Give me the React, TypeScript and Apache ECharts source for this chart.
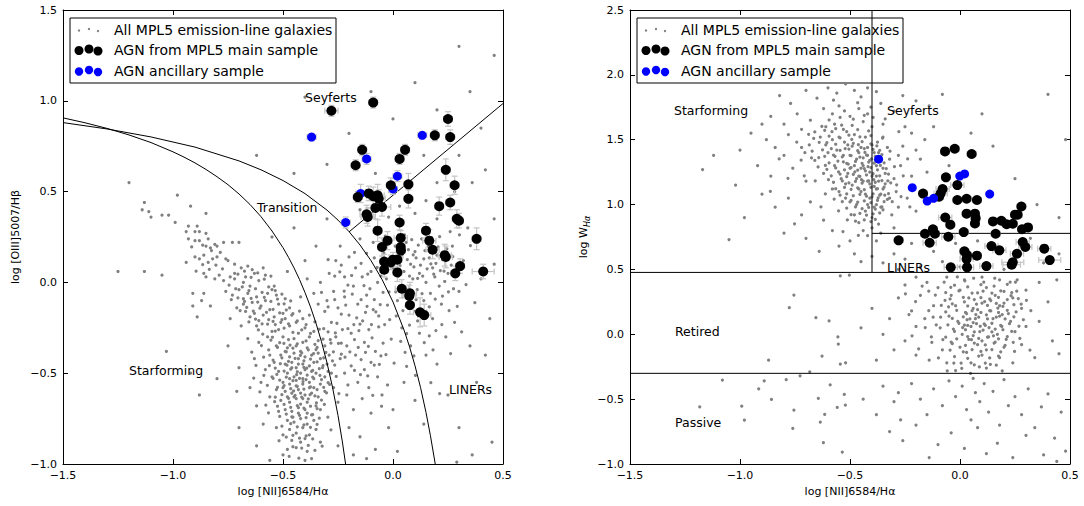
import React, { useEffect, useRef } from "react";
import * as echarts from "echarts";

const FONT = "DejaVu Sans";

// ---------- BPT panel (left) ----------
const BPT_GRAY: number[][] = [
  [-1.2,0.55],[-1.13,0.44],[-1.14,0.40],[-1.11,0.39],[-1.10,0.36],[-0.98,0.48],[-1.05,0.37],[-1.02,0.37],[-0.92,0.42],[-0.85,0.38],[-0.99,0.33],[-0.93,0.31],[-0.89,0.31],[-0.94,0.28],[-0.90,0.28],[-0.88,0.28],[-0.85,0.27],[-0.93,0.24],[-0.90,0.23],[-0.88,0.23],[-0.84,0.24],[-0.85,0.20],[-0.83,0.19],[-0.81,0.21],[-0.80,0.20],[-0.77,0.22],[-0.73,0.22],[-0.70,0.22],[-0.90,0.14],[-0.88,0.13],[-0.86,0.15],[-0.82,0.13],[-0.80,0.14],[-0.84,0.11],[-0.94,0.11],[-0.76,0.13],[-0.75,0.12],[-0.72,0.10],[-0.69,0.08],[-0.66,0.09],[-0.64,0.07],[-0.59,0.08],[-1.13,0.06],[-1.05,0.04],[-0.86,0.05],[-0.85,0.03],[-0.81,0.02],[-0.79,0.04],[-0.77,0.01],[-0.74,0.03],[-0.72,0.02],[-0.68,0.0],[-0.67,0.03],
  [-1.25,0.06],[-1.03,-0.38],[-0.92,-0.5],[-0.88,-0.62],
  [-0.91,-0.06],[-0.86,-0.06],[-0.91,-0.13],[-0.87,-0.10],[-0.83,-0.13],[-0.89,-0.19],[-0.76,-0.05],[-0.73,-0.07],[-0.70,-0.04],[-0.68,-0.09],[-0.66,-0.06],[-0.64,-0.11],[-0.62,-0.08],[-0.60,-0.13],[-0.71,-0.14],[-0.67,-0.16],[-0.63,-0.17],[-0.58,-0.10],[-0.56,-0.15],[-0.54,-0.19],[-0.61,-0.21],[-0.57,-0.23],[-0.52,-0.12],[-0.50,-0.17],[-0.65,-0.02],[-0.61,0.01],[-0.55,-0.04],[-0.58,0.04],[-0.53,-0.07],[-0.49,-0.09],[-0.47,-0.14],[-0.72,0.05],[-0.63,0.05],[-0.74,-0.20],[-0.69,-0.24],
  [-0.52,-0.26],[-0.47,-0.24],[-0.43,-0.28],[-0.40,-0.25],[-0.36,-0.27],[-0.50,-0.30],[-0.45,-0.31],[-0.41,-0.33],[-0.38,-0.30],[-0.34,-0.32],[-0.53,-0.35],[-0.48,-0.36],[-0.44,-0.35],[-0.42,-0.38],[-0.39,-0.36],[-0.35,-0.37],[-0.31,-0.35],[-0.51,-0.40],[-0.47,-0.41],[-0.45,-0.39],[-0.43,-0.42],[-0.40,-0.41],[-0.37,-0.40],[-0.33,-0.42],[-0.29,-0.40],[-0.54,-0.44],[-0.49,-0.45],[-0.46,-0.44],[-0.44,-0.47],[-0.41,-0.45],[-0.38,-0.46],[-0.36,-0.44],[-0.32,-0.47],[-0.52,-0.49],[-0.48,-0.50],[-0.45,-0.52],[-0.42,-0.50],[-0.39,-0.51],[-0.35,-0.50],[-0.31,-0.52],[-0.50,-0.55],[-0.47,-0.56],[-0.44,-0.54],[-0.41,-0.56],[-0.38,-0.55],[-0.36,-0.58],[-0.33,-0.56],[-0.53,-0.59],[-0.49,-0.60],[-0.46,-0.61],[-0.43,-0.59],[-0.40,-0.62],[-0.37,-0.61],[-0.34,-0.63],[-0.51,-0.65],[-0.47,-0.66],[-0.44,-0.64],[-0.42,-0.67],[-0.39,-0.66],[-0.35,-0.68],[-0.49,-0.70],[-0.46,-0.71],[-0.43,-0.72],[-0.40,-0.70],[-0.37,-0.73],[-0.48,-0.76],[-0.45,-0.77],[-0.42,-0.75],[-0.39,-0.78],[-0.36,-0.76],[-0.47,-0.81],[-0.44,-0.83],[-0.41,-0.80],[-0.38,-0.84],[-0.46,-0.87],[-0.42,-0.88],[-0.40,-0.86],[-0.44,-0.91],[-0.39,-0.93],
  [-0.49,-0.38],[-0.46,-0.47],[-0.43,-0.45],[-0.40,-0.48],[-0.37,-0.49],[-0.47,-0.53],[-0.44,-0.57],[-0.41,-0.53],[-0.38,-0.58],[-0.45,-0.63],[-0.41,-0.64],[-0.48,-0.63],[-0.43,-0.69],[-0.39,-0.72],[-0.46,-0.74],[-0.50,-0.58],[-0.42,-0.61],[-0.36,-0.53],[-0.34,-0.39],[-0.30,-0.45],[-0.28,-0.50],[-0.31,-0.60],[-0.33,-0.70],[-0.52,-0.71],[-0.55,-0.52],[-0.56,-0.40],[-0.57,-0.30],[-0.55,-0.27],[-0.58,-0.48],[-0.56,-0.63],[-0.53,-0.80],[-0.50,-0.84],[-0.35,-0.81],[-0.33,-0.88],[-0.48,-0.92],[-0.50,-0.95],[-0.37,-0.97],
  [-0.61,-0.33],[-0.63,-0.42],[-0.66,-0.31],[-0.60,-0.55],[-0.62,-0.68],[-0.59,-0.78],[-0.65,-0.58],[-0.70,-0.47],[-0.71,-0.60],[-0.75,-0.35],[-0.80,-0.53],[-0.70,-0.80],[-0.62,-0.90],[-0.56,-0.98],
  [-0.68,-0.12],[-0.65,-0.19],[-0.62,-0.24],[-0.59,-0.18],[-0.57,-0.06],[-0.54,-0.02],[-0.51,-0.22],[-0.49,-0.20],[-0.46,-0.18],[-0.44,-0.22],[-0.41,-0.20],[-0.38,-0.18],
  [-0.30,-0.10],[-0.27,-0.05],[-0.25,-0.14],[-0.22,-0.08],[-0.20,-0.18],[-0.18,-0.02],[-0.16,-0.12],[-0.14,0.03],[-0.12,-0.07],[-0.10,0.06],[-0.09,-0.15],[-0.07,0.0],[-0.05,0.10],[-0.28,-0.22],[-0.26,-0.30],[-0.23,-0.26],[-0.21,-0.35],[-0.19,-0.28],[-0.17,-0.40],[-0.15,-0.23],[-0.13,-0.33],[-0.11,-0.26],[-0.08,-0.38],[-0.24,-0.42],[-0.22,-0.50],[-0.19,-0.46],[-0.16,-0.55],[-0.13,-0.48],[-0.10,-0.44],[-0.27,-0.58],[-0.25,-0.66],[-0.21,-0.62],[-0.18,-0.70],[-0.14,-0.64],[-0.11,-0.58],[-0.07,-0.52],[-0.29,0.05],[-0.33,0.0],[-0.36,-0.06],[-0.39,0.02],[-0.42,-0.08],[-0.31,-0.16],[-0.34,-0.12],[-0.26,0.12],[-0.22,0.03],[-0.20,0.14],[-0.17,0.08],[-0.24,0.20],[-0.12,0.16],[-0.09,0.22],[-0.06,0.18],[-0.15,0.24],
  [0.01,0.20],[0.04,0.15],[0.06,0.22],[0.08,0.10],[0.10,0.17],[0.12,0.05],[0.14,0.13],[0.16,0.20],[0.18,0.08],[0.20,0.15],[0.09,0.02],[0.11,-0.04],[0.13,0.24],[0.15,0.00],[0.17,-0.06],[0.19,0.03],[0.21,-0.02],[0.07,0.18],[0.05,0.06],[0.03,-0.02],[0.00,0.08],[-0.02,0.13],[-0.03,0.02],[0.02,-0.10],[0.06,-0.13],[0.10,-0.16],[0.14,-0.10],[0.18,-0.20],[0.22,-0.12],[0.25,0.05],[0.24,-0.30],[0.12,-0.28],[0.08,-0.35],[0.04,-0.25],[0.15,-0.40],[0.20,-0.45],[0.28,-0.22],[0.30,-0.05],[0.32,0.12],[0.35,-0.35],[0.26,0.28],[0.34,0.30],[0.40,0.02],[0.42,-0.40],
  [-0.05,-0.62],[0.0,-0.70],[-0.02,-0.80],[0.05,-0.55],[0.10,-0.65],[0.14,-0.78],[-0.10,-0.72],[-0.15,-0.85],[-0.20,-0.80],[-0.25,-0.90],[-0.18,-0.95],[-0.08,-0.92],[0.02,-0.93],[-0.12,-0.97],[-0.40,-0.98],[0.25,-0.62],[0.30,-0.80],[0.38,-0.55],[0.36,-0.95],[0.29,-0.99],[0.45,-0.88],[0.44,-0.20],
  [-0.02,0.36],[0.03,0.42],[0.10,0.38],[0.15,0.45],[0.20,0.35],[0.28,0.50],[0.36,0.55],[0.42,0.62],[0.46,0.35],[0.30,0.70],[0.20,0.95],[0.35,1.05],[0.46,1.25],[0.30,1.30],[0.10,1.10],[0.0,0.90],[-0.10,1.05],[-0.20,0.82],[-0.30,0.65],[-0.45,0.60],[-0.40,1.02],[-0.08,0.60],[0.40,0.85],[0.14,0.70],[0.20,0.55],[-0.15,0.40],[-0.30,0.35],[-0.55,0.25],[-0.45,0.30],[-0.35,0.20],[-0.40,0.12],[-0.48,0.06],[-0.50,0.40],[-0.62,0.70],[0.46,0.10],[0.27,0.20],
  [-0.545,-0.215],[-0.505,-0.205],[-0.475,-0.228],[-0.435,-0.212],[-0.395,-0.232],[-0.355,-0.218],
  [-0.535,-0.268],[-0.495,-0.252],[-0.455,-0.275],[-0.415,-0.262],[-0.375,-0.281],[-0.335,-0.258],[-0.295,-0.272],
  [-0.555,-0.318],[-0.515,-0.332],[-0.475,-0.315],[-0.435,-0.338],[-0.395,-0.322],[-0.355,-0.341],[-0.318,-0.312],[-0.282,-0.335],
  [-0.565,-0.372],[-0.525,-0.358],[-0.485,-0.382],[-0.455,-0.362],[-0.415,-0.388],[-0.385,-0.371],[-0.345,-0.358],[-0.305,-0.385],
  [-0.545,-0.428],[-0.505,-0.415],[-0.475,-0.435],[-0.445,-0.418],[-0.405,-0.432],[-0.375,-0.422],[-0.345,-0.438],[-0.315,-0.415],[-0.275,-0.432],
  [-0.535,-0.472],[-0.495,-0.488],[-0.465,-0.478],[-0.435,-0.492],[-0.405,-0.468],[-0.365,-0.485],[-0.335,-0.475],[-0.295,-0.49],
  [-0.545,-0.528],[-0.515,-0.538],[-0.485,-0.522],[-0.455,-0.541],[-0.425,-0.528],[-0.395,-0.535],[-0.365,-0.522],[-0.325,-0.535],[-0.295,-0.552],
  [-0.525,-0.578],[-0.495,-0.568],[-0.465,-0.585],[-0.435,-0.572],[-0.405,-0.588],[-0.375,-0.575],[-0.345,-0.59],[-0.315,-0.578],
  [-0.535,-0.632],[-0.505,-0.618],[-0.475,-0.638],[-0.445,-0.622],[-0.415,-0.632],[-0.385,-0.642],[-0.355,-0.625],[-0.325,-0.648],
  [-0.525,-0.682],[-0.495,-0.672],[-0.465,-0.688],[-0.435,-0.678],[-0.405,-0.692],[-0.375,-0.682],[-0.345,-0.695],
  [-0.515,-0.738],[-0.485,-0.725],[-0.455,-0.742],[-0.425,-0.732],[-0.395,-0.745],[-0.365,-0.728],[-0.335,-0.748],
  [-0.505,-0.792],[-0.465,-0.778],[-0.435,-0.795],[-0.405,-0.785],[-0.375,-0.798],[-0.345,-0.782],
  [-0.485,-0.852],[-0.455,-0.842],[-0.425,-0.858],[-0.395,-0.845],[-0.365,-0.862],
  [-0.455,-0.905],[-0.415,-0.912],[-0.385,-0.898],[-0.355,-0.925],
  [-0.612,-0.262],[-0.598,-0.348],[-0.623,-0.457],[-0.587,-0.512],[-0.605,-0.603],[-0.578,-0.676],[-0.642,-0.384],[-0.633,-0.527],[-0.588,-0.412],[-0.571,-0.567],[-0.566,-0.718],[-0.592,-0.285],[-0.548,-0.302],[-0.562,-0.458],[-0.538,-0.657],[-0.528,-0.507],[-0.512,-0.448],[-0.496,-0.336],[-0.482,-0.456],[-0.468,-0.346],[-0.452,-0.598],[-0.438,-0.508],[-0.421,-0.402],[-0.409,-0.546],[-0.392,-0.472],[-0.377,-0.618],[-0.361,-0.392],[-0.348,-0.664],[-0.332,-0.512],[-0.318,-0.458],[-0.302,-0.608],[-0.288,-0.562],[-0.271,-0.382],[-0.258,-0.518],[-0.246,-0.612],[-0.262,-0.278],[-0.248,-0.336],[-0.312,-0.672],[-0.296,-0.742],[-0.282,-0.812],[-0.518,-0.872],[-0.472,-0.958],[-0.428,-0.968],[-0.322,-0.902],
  [-0.745,-0.015],[-0.715,-0.035],[-0.685,-0.025],[-0.655,-0.045],[-0.625,-0.035],[-0.595,-0.055],[-0.565,-0.025],[-0.535,-0.045],[-0.505,-0.065],
  [-0.735,-0.095],[-0.705,-0.085],[-0.675,-0.105],[-0.645,-0.088],[-0.615,-0.108],[-0.585,-0.082],[-0.555,-0.105],[-0.525,-0.092],[-0.495,-0.118],[-0.465,-0.102],
  [-0.695,-0.155],[-0.665,-0.138],[-0.635,-0.158],[-0.605,-0.142],[-0.575,-0.165],[-0.545,-0.148],[-0.515,-0.168],[-0.485,-0.152],[-0.455,-0.172],[-0.425,-0.158],
  [-0.655,-0.218],[-0.625,-0.202],[-0.595,-0.228],[-0.565,-0.205],[-0.535,-0.232],
  [-0.705,0.045],[-0.675,0.062],[-0.645,0.028],[-0.615,0.052],[-0.585,0.018],[-0.555,0.035],[-0.775,0.075],[-0.805,0.095],[-0.835,0.072],[-0.865,0.098],[-0.895,0.062],[-0.785,0.165],[-0.825,0.175],[-0.865,0.205],[-0.915,0.195],
  [-0.325,-0.055],[-0.295,-0.135],[-0.265,-0.095],[-0.235,-0.175],[-0.215,-0.125],[-0.185,-0.065],[-0.165,-0.195],[-0.145,-0.095],[-0.125,-0.165],[-0.105,-0.035],[-0.085,-0.095],[-0.065,-0.185],[-0.045,-0.055],[-0.025,-0.125],
  [-0.315,-0.255],[-0.285,-0.315],[-0.255,-0.225],[-0.235,-0.335],[-0.205,-0.255],[-0.175,-0.315],[-0.155,-0.265],[-0.125,-0.385],[-0.095,-0.305],[-0.065,-0.245],[-0.045,-0.335],[-0.015,-0.205],
  [-0.265,-0.455],[-0.235,-0.395],[-0.205,-0.565],[-0.175,-0.485],[-0.145,-0.425],[-0.115,-0.515],[-0.085,-0.455],[-0.055,-0.405],[-0.025,-0.565],
  [-0.295,0.125],[-0.265,0.035],[-0.235,0.095],[-0.205,-0.015],[-0.175,0.165],[-0.145,0.105],[-0.115,0.045],[-0.085,0.135],[-0.055,0.035],[-0.035,0.255],[-0.025,0.095],
  [0.015,0.145],[0.025,0.035],[0.045,0.195],[0.055,-0.065],[0.065,0.125],[0.075,0.035],[0.085,0.235],[0.095,0.085],[0.105,0.135],[0.115,0.205],[0.125,0.095],[0.135,0.035],[0.145,0.175],[0.155,0.075],[0.165,0.135],[0.175,0.245],[0.185,0.045],[0.195,0.105],[0.205,0.195],[0.215,0.065],[0.225,0.125],[0.235,0.005],[0.245,0.185],[0.265,0.095],[0.275,-0.035],
  [0.015,-0.185],[0.045,-0.155],[0.075,-0.235],[0.105,-0.095],[0.135,-0.195],[0.165,-0.135],[0.195,-0.265],[0.225,-0.075],[0.255,-0.155],[0.285,0.035],[0.035,-0.325],[0.095,-0.405],[0.165,-0.295],[0.005,-0.445],[0.055,-0.385],
  [-0.218,-0.412],[-0.196,-0.382],[-0.178,-0.232],[-0.158,-0.358],[-0.138,-0.212],[-0.118,-0.132],[-0.098,-0.232],[-0.078,-0.162],[-0.058,-0.122],[-0.038,-0.232],[-0.018,-0.052],[-0.008,-0.312],[-0.112,-0.352],[-0.062,-0.452],[-0.032,-0.398],[-0.148,-0.508],[-0.092,-0.622],[-0.052,-0.682],[-0.242,0.058],[-0.188,0.038],[-0.132,-0.018],[-0.072,0.082],[-0.042,0.162],[-0.222,-0.048],
  [0.012,-0.052],[0.032,0.092],[0.052,0.262],[0.072,-0.142],[0.092,0.152],[0.112,0.022],[0.132,-0.062],[0.152,0.222],[0.172,0.102],[0.192,-0.092],[0.212,0.252],[0.232,0.062],[0.252,-0.052],[0.272,0.142],[0.292,-0.132],[0.062,-0.282],[0.112,-0.212],[0.142,-0.332],[0.182,-0.372],[0.222,-0.232],[0.262,-0.392],[0.312,-0.272],[0.332,-0.012],[0.352,0.202],[0.372,-0.112],[0.102,-0.512],[0.172,-0.552],[0.062,-0.462],[0.212,-0.612],[0.302,0.262],
];

// [x, y, xerr, yerr]
const BPT_AGN: number[][] = [
  [-0.28,0.945,0.03,0.03],[-0.09,0.99,0.02,0.03],[0.25,0.90,0.02,0.04],[0.19,0.81,0.02,0.03],[0.26,0.80,0.02,0.04],
  [-0.14,0.73,0.02,0.03],[0.055,0.73,0.02,0.03],[0.03,0.68,0.02,0.03],[-0.17,0.645,0.02,0.03],[0.24,0.62,0.02,0.06],
  [0.28,0.535,0.02,0.05],[-0.01,0.535,0.02,0.04],[0.07,0.54,0.02,0.06],[0.07,0.46,0.02,0.05],[-0.11,0.49,0.03,0.04],
  [-0.09,0.475,0.03,0.05],[-0.07,0.48,0.03,0.06],[-0.065,0.46,0.03,0.05],[-0.16,0.47,0.02,0.03],[-0.08,0.41,0.04,0.06],
  [-0.05,0.415,0.04,0.05],[0.21,0.42,0.02,0.05],[0.26,0.44,0.02,0.04],[-0.12,0.375,0.03,0.05],[-0.115,0.36,0.03,0.05],
  [0.29,0.35,0.02,0.05],[0.30,0.34,0.02,0.04],[0.03,0.33,0.02,0.04],[-0.07,0.285,0.02,0.06],[0.15,0.285,0.02,0.04],
  [0.38,0.24,0.02,0.06],[-0.025,0.23,0.02,0.05],[0.035,0.245,0.03,0.04],[0.165,0.23,0.03,0.06],[-0.05,0.195,0.02,0.05],
  [0.035,0.195,0.02,0.05],[0.036,0.175,0.02,0.04],[0.18,0.18,0.03,0.05],[0.235,0.15,0.03,0.06],[0.24,0.14,0.03,0.06],
  [0.305,0.09,0.02,0.04],[0.283,0.05,0.02,0.04],[0.41,0.06,0.05,0.04],[-0.04,0.115,0.02,0.04],[-0.01,0.11,0.02,0.04],
  [0.0,0.125,0.02,0.04],[0.02,0.125,0.02,0.04],[-0.04,0.07,0.02,0.04],[0.02,0.055,0.02,0.05],[0.04,-0.035,0.03,0.05],
  [0.077,-0.06,0.03,0.06],[0.074,-0.075,0.03,0.06],[0.077,-0.125,0.02,0.05],[0.123,-0.165,0.03,0.08],[0.142,-0.18,0.03,0.06],
];

const BPT_ANC: number[][] = [
  [-0.37,0.80,0.02,0.02],[0.133,0.81,0.02,0.02],[-0.12,0.68,0.02,0.03],[0.02,0.585,0.02,0.03],
  [0.0,0.515,0.02,0.03],[-0.147,0.49,0.02,0.05],[-0.215,0.33,0.02,0.03],
];

// Kauffmann et al. (2003) and Kewley et al. (2001) demarcations, tabulated
const KAUFFMANN: number[][] = [
  [-1.5,0.906],[-1.4,0.879],[-1.3,0.848],[-1.2,0.812],[-1.1,0.770],[-1.0,0.719],[-0.95,0.690],[-0.9,0.658],[-0.85,0.622],[-0.8,0.582],[-0.75,0.538],[-0.7,0.487],[-0.65,0.429],[-0.6,0.362],[-0.55,0.283],[-0.5,0.191],[-0.475,0.138],[-0.45,0.080],[-0.425,0.016],[-0.4,-0.056],[-0.375,-0.135],[-0.35,-0.225],[-0.325,-0.327],[-0.3,-0.443],[-0.275,-0.577],[-0.25,-0.733],[-0.23,-0.879],[-0.2155,-1.0],
];
const KEWLEY: number[][] = [
  [-1.5,0.880],[-1.3,0.845],[-1.1,0.801],[-0.9,0.745],[-0.7,0.669],[-0.6,0.620],[-0.5,0.561],[-0.4,0.489],[-0.3,0.398],[-0.25,0.343],[-0.2,0.280],[-0.15,0.206],[-0.1,0.120],[-0.05,0.017],[0.0,-0.108],[0.05,-0.262],[0.075,-0.354],[0.1,-0.459],[0.125,-0.578],[0.15,-0.716],[0.17,-0.843],[0.192,-1.0],
];
const SEY_LINER: number[][] = [[-0.2,0.278],[0.5,0.985]];

// ---------- WHAN panel (right) ----------
const WHAN_GRAY: number[][] = [
  [-0.82,1.84],[-0.77,1.78],[-0.70,1.88],[-0.65,1.82],[-0.60,1.90],[-0.56,1.86],[-0.52,1.93],[-0.48,1.88],[-0.45,1.83],[-0.42,1.90],[-0.38,1.87],[-0.62,1.74],[-0.58,1.70],[-0.74,1.70],[-0.86,1.68],[-0.90,1.62],[-0.80,1.62],[-0.68,1.65],[-0.55,1.76],[-0.50,1.68],[-0.46,1.74],[-0.42,1.70],[-0.36,1.78],[-0.34,1.66],[-0.30,1.72],[-0.26,1.84],[-0.20,1.80],[-0.14,1.76],[-0.95,1.55],[-0.88,1.50],[-0.84,1.44],[-0.78,1.54],[-0.72,1.58],[-0.66,1.56],[-0.61,1.60],[-0.57,1.62],[-0.53,1.58],[-0.49,1.61],[-0.44,1.64],[-0.40,1.60],[-1.0,1.42],[-1.12,1.38],[-1.17,1.27],
  [-0.92,1.30],[-0.86,1.22],[-0.80,1.38],[-0.76,1.28],[-0.72,1.44],[-0.70,1.18],[-0.66,1.34],[-0.64,1.48],[-0.62,1.24],[-0.60,1.40],[-0.58,1.12],[-0.57,1.30],[-0.55,1.52],[-0.54,1.20],[-0.53,1.38],[-0.52,1.05],[-0.51,1.46],[-0.50,1.28],[-0.49,1.15],[-0.48,1.54],[-0.47,1.35],[-0.47,1.00],[-0.46,1.22],[-0.45,1.44],[-0.45,1.10],[-0.44,1.30],[-0.43,1.52],[-0.43,0.95],[-0.42,1.18],[-0.42,1.38],[-0.41,1.05],[-0.41,1.25],[-0.40,1.46],[-0.40,0.90],[-0.39,1.14],[-0.39,1.32],[-0.38,1.00],[-0.38,1.22],[-0.37,1.40],[-0.37,0.85],[-0.36,1.08],[-0.35,1.28],[-0.35,0.96],[-0.34,1.16],[-0.33,1.04],[-0.32,1.35],[-0.31,0.92],[-0.30,1.20],[-0.29,1.10],[-0.28,0.98],[-0.27,1.30],[-0.26,1.45],[-0.24,1.05],[-0.22,1.22],[-0.20,0.95],[-0.18,1.35],[-0.16,1.50],[-0.25,1.60],
  [-0.56,1.42],[-0.53,1.33],[-0.51,1.24],[-0.50,1.38],[-0.49,1.45],[-0.48,1.30],[-0.47,1.20],[-0.46,1.40],[-0.46,1.12],[-0.45,1.28],[-0.44,1.36],[-0.44,1.18],[-0.43,1.08],[-0.43,1.26],[-0.42,1.44],[-0.42,1.00],[-0.41,1.34],[-0.41,1.16],[-0.40,1.22],[-0.40,1.06],[-0.39,0.98],[-0.39,1.40],[-0.38,1.12],[-0.38,1.30],[-0.37,1.18],[-0.36,0.98],[-0.36,1.36],[-0.35,1.12],[-0.34,1.24],[-0.33,1.44],[-0.58,1.50],[-0.61,1.46],[-0.55,1.10],[-0.52,1.16],[-0.50,1.02],[-0.48,0.92],[-0.46,0.86],[-0.44,0.80],[-0.42,0.76],[-0.40,0.82],[-0.38,0.72],[-0.36,0.78],
  [-0.68,1.02],[-0.72,0.92],[-0.78,1.05],[-0.84,0.98],[-0.90,1.08],[-0.98,0.90],[-1.02,1.15],[-0.62,0.88],[-0.58,0.80],[-0.55,0.68],[-0.50,0.72],[-0.48,0.62],[-0.45,0.56],[-0.40,0.60],[-0.64,0.64],[-0.70,0.74],[-0.80,0.78],[-1.05,0.73],
  [-0.35,0.55],[-0.30,0.62],[-0.25,0.58],[-0.22,0.70],[-0.18,0.52],[-0.12,0.64],[-0.08,0.56],[-0.02,0.70],[0.05,0.60],[0.12,0.52],[0.18,0.66],[0.25,0.58],[0.32,0.74],[0.38,0.55],[0.45,0.62],[-0.28,0.50],[0.0,0.52],[0.08,0.72],[0.20,0.50],[-0.15,0.76],
  [-0.35,1.52],[-0.28,1.38],[-0.22,1.55],[-0.15,1.25],[-0.12,1.60],[-0.05,1.30],[0.05,1.55],[0.15,1.45],[0.25,1.20],[0.35,1.00],[0.45,0.90],[-0.30,0.82],[-0.20,1.42],[-0.35,1.62],[-0.32,1.05],[0.10,1.70],[-0.08,1.85],[0.40,1.85],[0.48,1.50],
  [-0.04,0.30],[0.0,0.34],[0.04,0.28],[0.08,0.32],[0.12,0.36],[0.16,0.30],[0.20,0.33],[0.24,0.28],[-0.02,0.22],[0.02,0.25],[0.06,0.20],[0.10,0.24],[0.14,0.18],[0.18,0.22],[0.22,0.16],[-0.05,0.14],[-0.01,0.10],[0.03,0.16],[0.07,0.12],[0.11,0.08],[0.15,0.12],[0.19,0.06],[0.23,0.10],[-0.03,0.04],[0.01,0.0],[0.05,0.06],[0.09,0.02],[0.13,-0.02],[0.17,0.0],[0.21,-0.04],[0.25,0.02],[-0.04,-0.06],[0.0,-0.10],[0.04,-0.04],[0.08,-0.08],[0.12,-0.12],[0.16,-0.06],[0.20,-0.10],[0.03,-0.14],[0.10,-0.16],[0.06,0.09],[0.12,0.15],[0.16,0.04],[0.08,0.19],[0.02,0.07],[0.14,0.26],[0.10,-0.05],[0.18,0.14],[0.06,-0.01],[0.20,0.24],
  [-0.15,0.40],[-0.10,0.36],[-0.18,0.30],[-0.12,0.22],[-0.16,0.12],[-0.09,0.05],[-0.13,-0.02],[-0.08,-0.12],[-0.14,-0.20],[-0.06,-0.22],[-0.02,-0.28],[0.05,-0.22],[0.12,-0.26],[0.18,-0.18],[0.24,-0.22],[0.28,-0.08],[0.30,0.06],[0.28,0.20],[0.30,0.34],[0.26,0.42],[0.18,0.42],[0.10,0.44],[0.02,0.42],[-0.06,0.44],[-0.20,0.44],[-0.25,0.38],[-0.28,0.28],[-0.22,0.18],[-0.20,0.06],[-0.25,-0.05],[-0.20,-0.16],[-0.30,-0.12],[-0.32,0.12],[-0.35,0.00],[-0.40,0.20],[-0.38,-0.20],[-0.45,0.05],[-0.52,-0.22],[0.34,-0.18],[0.36,0.10],[0.40,0.25],[0.42,-0.05],[0.45,-0.15],[0.36,0.40],[0.44,0.42],
  [-0.755,0.302],[-0.776,0.205],[-0.655,0.128],[-0.595,0.104],[-0.555,-0.02],[-0.553,-0.075],[-0.87,-0.2],[-0.627,-0.168],[-0.544,-0.23],[-0.683,-0.289],[-0.503,0.456],[-0.544,0.451],
  [-1.08,-0.353],[-0.89,-0.36],[-0.79,-0.35],[-0.727,-0.32],[-0.915,-0.42],[-0.59,-0.39],[-0.857,-0.502],[-0.644,-0.494],[-0.526,-0.464],[-1.183,-0.559],[-0.992,-0.554],[-0.755,-0.584],[-0.615,-0.618],[-0.558,-0.564],[-0.521,-0.546],[-0.98,-0.661],[-0.635,-0.677],[-0.76,-0.726],[-0.621,-0.836],[-0.535,-0.908],
  [-0.35,-0.40],[-0.30,-0.52],[-0.28,-0.45],[-0.22,-0.38],[-0.18,-0.50],[-0.15,-0.62],[-0.12,-0.42],[-0.08,-0.55],[-0.05,-0.36],[-0.02,-0.48],[0.01,-0.40],[0.03,-0.58],[0.05,-0.66],[0.07,-0.45],[0.09,-0.52],[0.11,-0.38],[0.13,-0.60],[0.15,-0.44],[0.18,-0.70],[0.20,-0.35],[0.22,-0.55],[0.25,-0.48],[0.28,-0.62],[0.31,-0.42],[0.34,-0.72],[0.37,-0.56],[0.40,-0.46],[0.43,-0.80],[0.46,-0.60],[0.48,-0.90],[-0.32,-0.75],[-0.26,-0.82],[-0.20,-0.70],[-0.10,-0.85],[-0.04,-0.76],[0.02,-0.88],[0.08,-0.72],[0.12,-0.92],[0.17,-0.84],[0.24,-0.95],[0.30,-0.78],[0.38,-0.93],[-0.14,-0.95],[0.44,-0.98],[-0.38,-0.62],[-0.44,-0.50],[-0.27,-0.66],[0.06,-0.34],
  [-0.615,1.572],[-0.565,1.585],[-0.515,1.562],[-0.465,1.578],[-0.415,1.568],[-0.665,1.51],
  [-0.595,1.528],[-0.545,1.515],[-0.505,1.535],[-0.455,1.522],[-0.405,1.532],[-0.635,1.52],
  [-0.605,1.478],[-0.565,1.465],[-0.525,1.482],[-0.485,1.472],[-0.445,1.485],[-0.405,1.468],[-0.375,1.482],[-0.685,1.46],
  [-0.625,1.422],[-0.585,1.432],[-0.545,1.418],[-0.505,1.428],[-0.465,1.415],[-0.435,1.432],[-0.395,1.425],[-0.365,1.418],[-0.705,1.40],
  [-0.615,1.372],[-0.575,1.382],[-0.535,1.368],[-0.495,1.378],[-0.455,1.365],[-0.425,1.382],[-0.385,1.372],[-0.355,1.385],[-0.675,1.36],
  [-0.595,1.322],[-0.555,1.335],[-0.515,1.318],[-0.475,1.332],[-0.445,1.318],[-0.415,1.328],[-0.385,1.345],[-0.345,1.322],
  [-0.605,1.272],[-0.565,1.282],[-0.525,1.268],[-0.495,1.285],[-0.465,1.265],[-0.435,1.278],[-0.405,1.285],[-0.375,1.268],[-0.335,1.278],[-0.645,1.29],
  [-0.585,1.222],[-0.545,1.235],[-0.515,1.215],[-0.485,1.232],[-0.455,1.218],[-0.425,1.228],[-0.395,1.238],[-0.365,1.222],[-0.325,1.235],
  [-0.575,1.172],[-0.535,1.182],[-0.505,1.168],[-0.475,1.178],[-0.445,1.165],[-0.415,1.182],[-0.385,1.172],[-0.355,1.185],[-0.315,1.168],
  [-0.565,1.122],[-0.525,1.132],[-0.495,1.118],[-0.465,1.128],[-0.435,1.115],[-0.405,1.132],[-0.375,1.122],[-0.345,1.135],
  [-0.545,1.072],[-0.515,1.082],[-0.485,1.068],[-0.455,1.078],[-0.425,1.065],[-0.395,1.082],[-0.365,1.072],[-0.325,1.085],
  [-0.535,1.022],[-0.495,1.032],[-0.465,1.018],[-0.435,1.028],[-0.405,1.015],[-0.375,1.032],[-0.345,1.022],
  [-0.515,0.972],[-0.475,0.982],[-0.445,0.968],[-0.415,0.978],[-0.385,0.965],[-0.355,0.982],
  [-0.495,0.922],[-0.455,0.932],[-0.425,0.918],[-0.395,0.928],[-0.365,0.935],
  [-0.475,0.872],[-0.435,0.882],[-0.405,0.868],[-0.385,0.885],
  [-0.595,1.652],[-0.545,1.672],[-0.485,1.658],[-0.435,1.688],[-0.395,1.672],[-0.525,1.722],[-0.465,1.785],[-0.405,1.752],[-0.575,1.805],
  [-0.742,1.482],[-0.722,1.342],[-0.708,1.222],[-0.688,1.542],[-0.672,1.412],[-0.658,1.182],[-0.642,1.362],[-0.628,1.602],[-0.612,1.302],[-0.598,1.192],[-0.582,1.562],[-0.568,1.372],[-0.552,1.252],[-0.538,1.612],[-0.522,1.432],[-0.508,1.312],[-0.492,1.502],[-0.478,1.252],[-0.462,1.462],[-0.448,1.192],[-0.432,1.402],[-0.418,1.292],[-0.402,1.352],[-0.392,1.192],[-0.378,1.452],[-0.372,1.052],[-0.362,1.302],[-0.352,1.512],[-0.342,1.072],[-0.328,1.182],[-0.318,1.412],[-0.308,1.022],[-0.298,1.292],[-0.288,1.152],[-0.278,1.562],[-0.268,1.062],[-0.258,1.222],[-0.238,1.352],[-0.228,0.982],[-0.212,1.142],[-0.552,0.952],[-0.572,1.042],[-0.612,1.082],[-0.632,0.982],[-0.512,0.882],[-0.462,0.762],[-0.532,0.792],[-0.782,1.202],[-0.822,1.352],[-0.862,1.102],[-0.752,0.852],
  [-0.025,0.378],[0.035,0.365],[0.095,0.382],[0.155,0.372],[0.215,0.385],
  [-0.065,0.322],[-0.005,0.335],[0.055,0.318],[0.105,0.332],[0.145,0.318],[0.185,0.335],[0.235,0.322],
  [-0.045,0.272],[0.015,0.285],[0.065,0.268],[0.095,0.282],[0.135,0.272],[0.175,0.285],[0.215,0.268],[0.265,0.275],
  [-0.085,0.222],[-0.035,0.235],[0.035,0.218],[0.075,0.232],[0.125,0.222],[0.165,0.238],[0.195,0.215],[0.245,0.228],
  [-0.065,0.172],[-0.015,0.185],[0.025,0.168],[0.055,0.182],[0.095,0.168],[0.135,0.182],[0.175,0.168],[0.215,0.185],[0.255,0.172],
  [-0.035,0.122],[0.015,0.135],[0.045,0.118],[0.085,0.132],[0.125,0.118],[0.165,0.132],[0.205,0.118],[0.245,0.135],
  [-0.055,0.072],[-0.005,0.085],[0.035,0.068],[0.075,0.082],[0.115,0.068],[0.145,0.085],[0.185,0.068],[0.225,0.082],
  [-0.025,0.022],[0.025,0.035],[0.065,0.018],[0.105,0.032],[0.145,0.018],[0.195,0.035],[0.235,0.022],
  [-0.065,-0.022],[-0.015,-0.035],[0.035,-0.018],[0.085,-0.032],[0.125,-0.022],[0.175,-0.035],[0.215,-0.018],
  [-0.035,-0.072],[0.025,-0.085],[0.065,-0.068],[0.115,-0.082],[0.155,-0.068],[0.205,-0.085],
  [-0.045,-0.122],[0.015,-0.135],[0.055,-0.118],[0.095,-0.132],[0.145,-0.118],[0.185,-0.135],
  [-0.025,-0.172],[0.035,-0.185],[0.085,-0.168],[0.135,-0.182],[0.175,-0.168],
  [0.005,-0.222],[0.065,-0.235],[0.115,-0.222],[0.165,-0.238],
  [-0.248,0.312],[-0.232,0.152],[-0.218,-0.012],[-0.202,0.252],[-0.188,-0.112],[-0.172,0.372],[-0.158,0.052],[-0.142,0.182],[-0.128,-0.062],[-0.112,0.302],[-0.098,-0.182],[-0.088,0.132],[-0.072,0.402],[-0.058,-0.282],[-0.042,0.362],[-0.028,-0.222],[-0.012,0.442],[0.008,-0.262],[0.022,0.412],[0.048,-0.302],[0.062,0.432],[0.088,-0.252],[0.108,0.402],[0.138,-0.232],[0.158,0.432],[0.192,-0.282],[0.228,0.402],[0.248,-0.132],[0.258,0.332],[0.272,-0.032],[0.288,0.112],[0.302,0.262],[0.318,-0.122],[0.322,0.182],[0.268,0.062],[0.242,-0.062],[0.278,0.232],[0.232,0.298],[0.252,0.402],[-0.142,0.332],[-0.068,0.262],[-0.108,0.072],[-0.078,-0.042],[-0.122,0.132],[-0.052,0.212],[0.012,0.052],[0.072,0.152],[0.132,0.052],[0.192,0.152],[0.052,-0.042],[0.112,0.252],[0.172,0.202],[0.092,0.062],[0.152,-0.012],[0.032,0.112],
];

const WHAN_AGN: number[][] = [
  [-0.068,1.41,0.02,0.02],[-0.024,1.43,0.02,0.02],[0.053,1.39,0.02,0.02],[-0.064,1.21,0.02,0.02],[-0.012,1.15,0.03,0.02],
  [-0.168,1.085,0.02,0.02],[-0.079,1.12,0.03,0.02],[-0.088,1.085,0.03,0.02],[-0.095,1.06,0.02,0.02],[-0.012,1.035,0.02,0.02],
  [0.03,1.045,0.02,0.02],[0.077,1.035,0.02,0.02],[0.279,0.985,0.02,0.02],[0.03,0.93,0.02,0.02],[0.068,0.93,0.02,0.02],
  [0.071,0.895,0.02,0.02],[0.068,0.855,0.02,0.02],[-0.067,0.90,0.03,0.02],[-0.044,0.845,0.02,0.02],[0.15,0.87,0.02,0.02],
  [0.188,0.875,0.02,0.02],[0.212,0.848,0.02,0.02],[0.24,0.852,0.02,0.02],[0.25,0.922,0.02,0.02],[0.262,0.922,0.02,0.02],
  [0.282,0.81,0.02,0.02],[0.309,0.824,0.02,0.02],[0.162,0.775,0.02,0.02],[0.017,0.788,0.02,0.02],[-0.123,0.81,0.02,0.02],
  [-0.159,0.775,0.02,0.02],[-0.114,0.775,0.02,0.02],[-0.053,0.752,0.03,0.02],[-0.279,0.724,0.02,0.02],[-0.138,0.706,0.03,0.02],
  [0.143,0.68,0.03,0.02],[0.179,0.647,0.03,0.02],[0.285,0.711,0.03,0.02],[0.297,0.673,0.03,0.02],[0.383,0.66,0.03,0.02],
  [0.02,0.64,0.02,0.02],[0.032,0.611,0.03,0.02],[0.03,0.58,0.03,0.02],[0.077,0.606,0.02,0.02],[0.259,0.621,0.03,0.02],
  [0.408,0.572,0.05,0.02],[0.24,0.555,0.05,0.02],[0.235,0.536,0.04,0.02],[-0.042,0.516,0.03,0.02],[0.032,0.516,0.03,0.02],
  [0.12,0.526,0.03,0.02],
];

const WHAN_ANC: number[][] = [
  [-0.37,1.35,0.01,0.01],[-0.001,1.22,0.01,0.01],[0.021,1.236,0.01,0.01],[-0.217,1.13,0.01,0.01],
  [-0.149,1.027,0.01,0.01],[-0.12,1.048,0.01,0.01],[0.135,1.081,0.01,0.01],
];

// WHAN demarcations: log W = log 3, log 6, log 0.5; log [NII]/Ha = -0.4
const WHAN_LINES: number[][][] = [
  [[-1.5,0.477],[0.5,0.477]],
  [[-0.4,0.477],[-0.4,2.5]],
  [[-0.4,0.778],[0.5,0.778]],
  [[-1.5,-0.301],[0.5,-0.301]],
];

const LEGEND_LABELS = ["All MPL5 emission-line galaxies", "AGN from MPL5 main sample", "AGN ancillary sample"];
const BPT_REGIONS: [string, number, number][] = [["Seyferts",305,97],["Transition",257,207],["Starforming",129,370],["LINERs",449,389]];
const WHAN_REGIONS: [string, number, number][] = [["Starforming",674,110],["Seyferts",887,110],["LINERs",887,267],["Retired",675,331],["Passive",675,422]];

const fmt = (v: number) => {
  const s = Math.abs(v).toFixed(1);
  return v < -1e-9 ? "\u2212" + s : s;
};

function errRender(params: any, api: any) {
  const x = api.value(0), y = api.value(1), xe = api.value(2), ye = api.value(3);
  const l = api.coord([x - xe, y]);
  const r = api.coord([x + xe, y]);
  const t = api.coord([x, y + ye]);
  const b = api.coord([x, y - ye]);
  const st = { stroke: "#c4c4c4", lineWidth: 1.2 };
  const cap = 3;
  return {
    type: "group",
    children: [
      { type: "line", shape: { x1: l[0], y1: l[1], x2: r[0], y2: r[1] }, style: st },
      { type: "line", shape: { x1: t[0], y1: t[1], x2: b[0], y2: b[1] }, style: st },
      { type: "line", shape: { x1: l[0], y1: l[1] - cap, x2: l[0], y2: l[1] + cap }, style: st },
      { type: "line", shape: { x1: r[0], y1: r[1] - cap, x2: r[0], y2: r[1] + cap }, style: st },
      { type: "line", shape: { x1: t[0] - cap, y1: t[1], x2: t[0] + cap, y2: t[1] }, style: st },
      { type: "line", shape: { x1: b[0] - cap, y1: b[1], x2: b[0] + cap, y2: b[1] }, style: st },
    ],
  };
}

function xAxisDef(grid: number, pos: "top" | "bottom", withLabels: boolean) {
  return {
    type: "value", gridIndex: grid, position: pos, min: -1.5, max: 0.5, interval: 0.5,
    axisLine: { show: true, onZero: false, lineStyle: { color: "#000", width: 1 } },
    axisTick: { show: true, inside: true, length: 5, lineStyle: { color: "#000" } },
    axisLabel: { show: withLabels, formatter: fmt, color: "#000", fontSize: 11, fontFamily: FONT, margin: 6 },
    splitLine: { show: false },
    name: withLabels ? "log [NII]6584/H\u03b1" : "",
    nameLocation: "middle", nameGap: 22,
    nameTextStyle: { color: "#000", fontSize: 11, fontFamily: FONT },
  };
}

function yAxisDef(grid: number, pos: "left" | "right", min: number, max: number, withLabels: boolean, name: string, gap: number, rich?: any) {
  return {
    type: "value", gridIndex: grid, position: pos, min, max, interval: 0.5,
    axisLine: { show: true, onZero: false, lineStyle: { color: "#000", width: 1 } },
    axisTick: { show: true, inside: true, length: 5, lineStyle: { color: "#000" } },
    axisLabel: { show: withLabels, formatter: fmt, color: "#000", fontSize: 11, fontFamily: FONT, margin: 6 },
    splitLine: { show: false },
    name: withLabels ? name : "",
    nameLocation: "middle", nameRotate: 90, nameGap: gap,
    nameTextStyle: { color: "#000", fontSize: 11, fontFamily: FONT, rich },
  };
}

function legendGraphic(boxX: number, textX: number) {
  const rows = [30, 50, 71];
  const dx = [9, 19, 28];
  const dy = [0.5, -1, 1];
  const els: any[] = [
    { type: "rect", shape: { x: boxX, y: 18, width: 266, height: 65 }, style: { fill: "#fff", stroke: "#000", lineWidth: 1 } },
  ];
  const colors = ["#808080", "#000", "#0000ff"];
  const radii = [1.2, 4.5, 4.2];
  rows.forEach((ry, i) => {
    dx.forEach((d, j) => {
      els.push({ type: "circle", shape: { cx: boxX + d, cy: ry + dy[j], r: radii[i] }, style: { fill: colors[i] } });
    });
    els.push({
      type: "text", x: textX, y: ry,
      style: { text: LEGEND_LABELS[i], fill: "#000", font: `14px "${FONT}"`, textAlign: "left", textVerticalAlign: "middle" },
    });
  });
  return { type: "group", z: 100, children: els };
}

function regionTexts(list: [string, number, number][]) {
  return list.map(([t, x, y]) => ({
    type: "text", x, y, z: 90,
    style: { text: t, fill: "#000", font: `12.5px "${FONT}"`, textAlign: "left", textVerticalAlign: "middle" },
  }));
}

const lineStyle = { color: "#000", width: 1 };

export default function App() {
  const ref = useRef<HTMLDivElement>(null);
  useEffect(() => {
    if (!ref.current) return;
    const chart = echarts.init(ref.current, undefined, { renderer: "svg" });
    const lineSeries = (data: number[][], xi: number, yi: number) => ({
      type: "line", data, xAxisIndex: xi, yAxisIndex: yi, showSymbol: false, symbol: "none",
      lineStyle, silent: true, z: 3, clip: true,
    });
    const dot = (color: string) => ({ color, opacity: 1, borderWidth: 0 });
    const option: any = {
      animation: false,
      backgroundColor: "#fff",
      grid: [
        { left: 63, top: 10, width: 440, height: 454 },
        { left: 630, top: 10, width: 440, height: 454 },
      ],
      xAxis: [xAxisDef(0, "bottom", true), xAxisDef(0, "top", false), xAxisDef(1, "bottom", true), xAxisDef(1, "top", false)],
      yAxis: [
        yAxisDef(0, "left", -1, 1.5, true, "log [OIII]5007/H\u03b2", 42),
        yAxisDef(0, "right", -1, 1.5, false, "", 0),
        yAxisDef(1, "left", -1, 2.5, true, "{a|log W}{b|H\u03b1}", 39, {
          a: { fontSize: 11, fontFamily: FONT, color: "#000", lineHeight: 16, verticalAlign: "middle" },
          b: { fontSize: 8, fontFamily: FONT, color: "#000", fontStyle: "italic", lineHeight: 16, verticalAlign: "bottom" },
        }),
        yAxisDef(1, "right", -1, 2.5, false, "", 0),
      ],
      series: [
        { type: "scatter", data: BPT_GRAY, xAxisIndex: 0, yAxisIndex: 0, symbolSize: 3.2, itemStyle: dot("#808080"), silent: true, z: 1 },
        lineSeries(KAUFFMANN, 0, 0),
        lineSeries(KEWLEY, 0, 0),
        lineSeries(SEY_LINER, 0, 0),
        { type: "custom", renderItem: errRender, data: BPT_AGN.concat(BPT_ANC), xAxisIndex: 0, yAxisIndex: 0, encode: { x: 0, y: 1 }, silent: true, z: 4 },
        { type: "scatter", data: BPT_ANC.map((d) => [d[0], d[1]]), xAxisIndex: 0, yAxisIndex: 0, symbolSize: 9, itemStyle: dot("#0000ff"), silent: true, z: 5 },
        { type: "scatter", data: BPT_AGN.map((d) => [d[0], d[1]]), xAxisIndex: 0, yAxisIndex: 0, symbolSize: 10, itemStyle: dot("#000"), silent: true, z: 6 },

        { type: "scatter", data: WHAN_GRAY, xAxisIndex: 2, yAxisIndex: 2, symbolSize: 3.2, itemStyle: dot("#808080"), silent: true, z: 1 },
        ...WHAN_LINES.map((l) => lineSeries(l, 2, 2)),
        { type: "custom", renderItem: errRender, data: WHAN_AGN, xAxisIndex: 2, yAxisIndex: 2, encode: { x: 0, y: 1 }, silent: true, z: 4 },
        { type: "scatter", data: WHAN_AGN.map((d) => [d[0], d[1]]), xAxisIndex: 2, yAxisIndex: 2, symbolSize: 10, itemStyle: dot("#000"), silent: true, z: 5 },
        { type: "scatter", data: WHAN_ANC.map((d) => [d[0], d[1]]), xAxisIndex: 2, yAxisIndex: 2, symbolSize: 9, itemStyle: dot("#0000ff"), silent: true, z: 6 },
      ],
      graphic: [
        legendGraphic(70, 114),
        legendGraphic(637, 681),
        ...regionTexts(BPT_REGIONS),
        ...regionTexts(WHAN_REGIONS),
      ],
    };
    chart.setOption(option);
    return () => chart.dispose();
  }, []);
  return <div ref={ref} style={{ position: "absolute", left: 0, top: 0, width: 1084, height: 506 }} />;
}
